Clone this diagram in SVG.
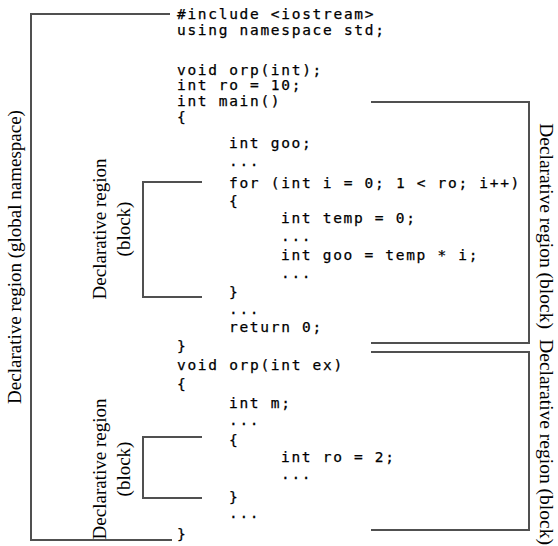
<svg xmlns="http://www.w3.org/2000/svg" width="558" height="546" viewBox="0 0 558 546">
<style>
.code{font-family:"DejaVu Sans Mono",monospace;font-size:14.5px;letter-spacing:1.7px;fill:#000;stroke:#000;stroke-width:0.25px}
.lbl{font-family:"Liberation Serif","Times New Roman",serif;font-size:19px;fill:#000;text-anchor:middle}
.rl{font-size:19.5px}
.br{fill:none;stroke:#505050;stroke-width:2}
</style>
<rect width="558" height="546" fill="#fff"/>
<g id="code">
<text class="code" x="177" y="19">#include &lt;iostream&gt;</text>
<text class="code" x="177" y="35">using namespace std;</text>
<text class="code" x="177" y="75">void orp(int);</text>
<text class="code" x="177" y="90">int ro = 10;</text>
<text class="code" x="177" y="106">int main()</text>
<text class="code" x="177" y="122">{</text>
<text class="code" x="229" y="148">int goo;</text>
<text class="code" x="229" y="166">...</text>
<text class="code" x="229" y="188">for (int i = 0; 1 &lt; ro; i++)</text>
<text class="code" x="229" y="206">{</text>
<text class="code" x="281" y="223">int temp = 0;</text>
<text class="code" x="281" y="241">...</text>
<text class="code" x="281" y="260">int goo = temp * i;</text>
<text class="code" x="281" y="278">...</text>
<text class="code" x="229" y="297">}</text>
<text class="code" x="229" y="314">...</text>
<text class="code" x="229" y="332">return 0;</text>
<text class="code" x="177" y="351">}</text>
<text class="code" x="177" y="370">void orp(int ex)</text>
<text class="code" x="177" y="389">{</text>
<text class="code" x="229" y="408">int m;</text>
<text class="code" x="229" y="425">...</text>
<text class="code" x="229" y="445">{</text>
<text class="code" x="281" y="462">int ro = 2;</text>
<text class="code" x="281" y="479">...</text>
<text class="code" x="229" y="502">}</text>
<text class="code" x="229" y="518">...</text>
<text class="code" x="177" y="539">}</text>
</g>
<g id="connectors">
<path id="br-global" class="br" d="M170,14 H31 V540 H172"/>
<path id="br-main" class="br" d="M371,102 H529 V343 H371"/>
<path id="br-orp" class="br" d="M371,352 H529 V530 H371"/>
<path id="br-for" class="br" d="M202,182 H143 V297 H202"/>
<path id="br-inner" class="br" d="M202,437 H143 V498 H202"/>
</g>
<g id="label-global">
<text class="lbl" transform="translate(21,257) rotate(-90)">Declarative region (global namespace)</text>
</g>
<g id="label-main">
<text class="lbl rl" transform="translate(540,226) rotate(90)">Declarative region (block)</text>
</g>
<g id="label-orp">
<text class="lbl rl" transform="translate(540,442) rotate(90)">Declarative region (block)</text>
</g>
<g id="label-for">
<text class="lbl" transform="translate(106,229) rotate(-90)">Declarative region</text>
<text class="lbl" transform="translate(130,229) rotate(-90)">(block)</text>
</g>
<g id="label-inner">
<text class="lbl" transform="translate(106,469) rotate(-90)">Declarative region</text>
<text class="lbl" transform="translate(130,469) rotate(-90)">(block)</text>
</g>
</svg>
